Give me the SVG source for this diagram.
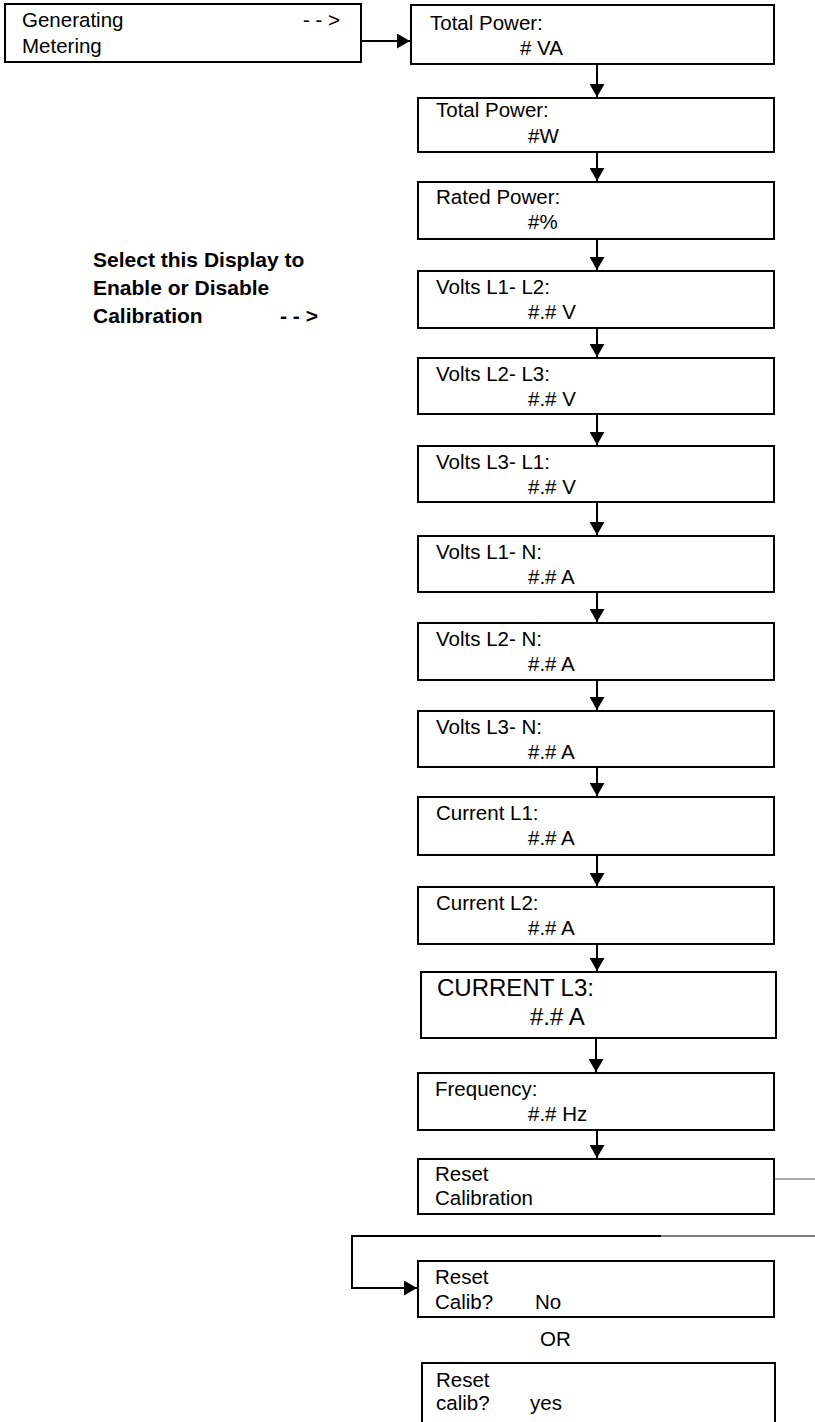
<svg xmlns="http://www.w3.org/2000/svg" width="815" height="1422" viewBox="0 0 815 1422">
<style>
.box{fill:#fff;stroke:#000;stroke-width:2}
text{font-family:"Liberation Sans",Arial,sans-serif;font-size:20.5px;fill:#000}
.b{font-weight:bold;font-size:21px}
.big{font-size:24px}
.con{stroke:#000;stroke-width:2;fill:none}
.thin{stroke:#555;stroke-width:1;fill:none}
.gray{stroke:#808080;stroke-width:2;fill:none}
</style>
<defs>
<marker id="ah" viewBox="0 0 13 15" refX="13" refY="7.5" markerWidth="13" markerHeight="15" markerUnits="userSpaceOnUse" orient="auto">
<path d="M0,0 L13,7.5 L0,15 Z" fill="#000"/>
</marker>
</defs>
<rect width="815" height="1422" fill="#fff"/>
<g id="connectors">
<line class="con" x1="361" y1="41" x2="410" y2="41" marker-end="url(#ah)"/>
<line class="con" x1="597" y1="64" x2="597" y2="97" marker-end="url(#ah)"/>
<line class="con" x1="597" y1="152" x2="597" y2="181" marker-end="url(#ah)"/>
<line class="con" x1="597" y1="239" x2="597" y2="270" marker-end="url(#ah)"/>
<line class="con" x1="597" y1="328" x2="597" y2="357" marker-end="url(#ah)"/>
<line class="con" x1="597" y1="414" x2="597" y2="445" marker-end="url(#ah)"/>
<line class="con" x1="597" y1="502" x2="597" y2="535" marker-end="url(#ah)"/>
<line class="con" x1="597" y1="592" x2="597" y2="622" marker-end="url(#ah)"/>
<line class="con" x1="597" y1="680" x2="597" y2="710" marker-end="url(#ah)"/>
<line class="con" x1="597" y1="767" x2="597" y2="796" marker-end="url(#ah)"/>
<line class="con" x1="597" y1="855" x2="597" y2="886" marker-end="url(#ah)"/>
<line class="con" x1="597" y1="944" x2="597" y2="971" marker-end="url(#ah)"/>
<line class="con" x1="596" y1="1038" x2="596" y2="1072" marker-end="url(#ah)"/>
<line class="con" x1="597" y1="1130" x2="597" y2="1158" marker-end="url(#ah)"/>
<line class="thin" x1="775" y1="1179" x2="815" y2="1179"/>
<line class="gray" x1="660" y1="1236" x2="815" y2="1236"/>
<polyline class="con" points="661,1236 352,1236 352,1288 417,1288" marker-end="url(#ah)"/>
</g>
<g id="n-generating">
<rect class="box" x="5" y="4" width="356" height="58"/>
<text x="22" y="27">Generating</text>
<text x="303" y="27">- - &gt;</text>
<text x="22" y="53">Metering</text>
</g>
<g id="n-calib-label">
<text class="b" x="93" y="267">Select this Display to</text>
<text class="b" x="93" y="295">Enable or Disable</text>
<text class="b" x="93" y="323">Calibration</text>
<text class="b" x="280" y="323">- - &gt;</text>
</g>
<g id="n-va">
<rect class="box" x="411" y="5" width="363" height="59"/>
<text x="430" y="30">Total Power:</text>
<text x="520" y="55"># VA</text>
</g>
<g id="n-w">
<rect class="box" x="418" y="98" width="356" height="54"/>
<text x="436" y="117">Total Power:</text>
<text x="528" y="143">#W</text>
</g>
<g id="n-rated">
<rect class="box" x="418" y="182" width="356" height="57"/>
<text x="436" y="204">Rated Power:</text>
<text x="528" y="229">#%</text>
</g>
<g id="n-v12">
<rect class="box" x="418" y="271" width="356" height="57"/>
<text x="436" y="294">Volts L1- L2:</text>
<text x="528" y="319">#.# V</text>
</g>
<g id="n-v23">
<rect class="box" x="418" y="358" width="356" height="56"/>
<text x="436" y="381">Volts L2- L3:</text>
<text x="528" y="406">#.# V</text>
</g>
<g id="n-v31">
<rect class="box" x="418" y="446" width="356" height="56"/>
<text x="436" y="469">Volts L3- L1:</text>
<text x="528" y="494">#.# V</text>
</g>
<g id="n-v1n">
<rect class="box" x="418" y="536" width="356" height="56"/>
<text x="436" y="559">Volts L1- N:</text>
<text x="528" y="584">#.# A</text>
</g>
<g id="n-v2n">
<rect class="box" x="418" y="623" width="356" height="57"/>
<text x="436" y="646">Volts L2- N:</text>
<text x="528" y="671">#.# A</text>
</g>
<g id="n-v3n">
<rect class="box" x="418" y="711" width="356" height="56"/>
<text x="436" y="734">Volts L3- N:</text>
<text x="528" y="759">#.# A</text>
</g>
<g id="n-c1">
<rect class="box" x="418" y="797" width="356" height="58"/>
<text x="436" y="820">Current L1:</text>
<text x="528" y="845">#.# A</text>
</g>
<g id="n-c2">
<rect class="box" x="418" y="887" width="356" height="57"/>
<text x="436" y="910">Current L2:</text>
<text x="528" y="935">#.# A</text>
</g>
<g id="n-c3">
<rect class="box" x="421" y="972" width="355" height="66"/>
<text class="big" x="437" y="996">CURRENT L3:</text>
<text class="big" x="530" y="1025">#.# A</text>
</g>
<g id="n-freq">
<rect class="box" x="418" y="1073" width="356" height="57"/>
<text x="435" y="1096">Frequency:</text>
<text x="528" y="1121">#.# Hz</text>
</g>
<g id="n-reset">
<rect class="box" x="418" y="1159" width="356" height="55"/>
<text x="435" y="1181">Reset</text>
<text x="435" y="1205">Calibration</text>
</g>
<g id="n-no">
<rect class="box" x="418" y="1261" width="356" height="56"/>
<text x="435" y="1284">Reset</text>
<text x="435" y="1309">Calib?</text>
<text x="535" y="1309">No</text>
</g>
<g id="n-or">
<text x="540" y="1346">OR</text>
</g>
<g id="n-yes">
<rect class="box" x="422" y="1363" width="353" height="62"/>
<text x="436" y="1387">Reset</text>
<text x="436" y="1410">calib?</text>
<text x="530" y="1410">yes</text>
</g>
</svg>
